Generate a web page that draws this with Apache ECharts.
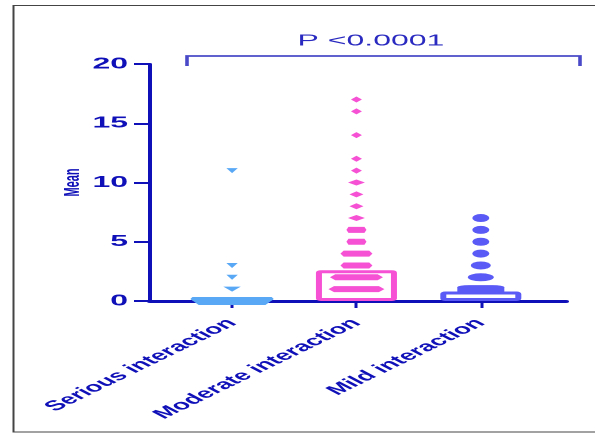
<!DOCTYPE html>
<html><head><meta charset="utf-8">
<script src="https://cdn.jsdelivr.net/npm/echarts@6/dist/echarts.min.js"></script>
<style>
html,body{margin:0;padding:0;background:#fff;overflow:hidden;width:595px;height:434px}
#wrap{width:297.5px;height:434px;transform:scaleX(2);transform-origin:0 0;}
</style></head><body><div id="wrap"></div>
<script>
// ---- data ----
const categories = ['Serious interaction', 'Moderate interaction', 'Mild interaction'];
const seriousValues = [11, 3, 2, 1, 0];
const seriousCounts = [1, 1, 1, 3, 25];
const moderateValues = [17, 16, 14, 12, 11, 10, 9, 8, 7, 6, 5, 4, 3, 2, 1];
const moderateCounts = [1, 1, 1, 1, 1, 3, 2, 2, 3, 4, 4, 8, 8, 15, 16];
const mildValues = [7, 6, 5, 4, 3, 2, 1];
const mildCounts = [1, 1, 1, 1, 2, 4, 11];
const barValues = [0.3, 2.6, 0.8];
const yTicks = [0, 5, 10, 15, 20];
const pLabel = 'P <0.0001';

// ---- styles ----
const AXIS = '#1010b8';
const colors = ['#58a8f6', '#f650d4', '#5a5af6'];
const FONT = 'Liberation Sans';

const chart = echarts.init(document.getElementById('wrap'), null, {renderer: 'canvas', devicePixelRatio: 2});

function pts(ci, vals, counts) {
  return vals.map((v, i) => [ci, v, counts[i]]);
}
const TRI = 'path://M0,0 L10,0 L5,9 Z';
const TRI_ROW = 'path://M1,0 L39,0 L40,1 L36,4 L4,4 L0,1 Z';
const DIA = 'diamond';
const DIA_ROW = 'path://M0,3 L3,0 L27,0 L30,3 L27,6 L3,6 Z';

const option = {
  animation: false,
  textStyle: {fontFamily: FONT},
  grid: {left: 75, right: 15, top: 64, bottom: 133, containLabel: false},
  xAxis: {
    type: 'value', min: -0.66, max: 2.685,
    splitLine: {show: false},
    axisLine: {show: true, onZero: false, lineStyle: {color: AXIS, width: 3}},
    axisTick: {show: true, customValues: [0, 1, 2], length: 7, lineStyle: {color: AXIS, width: 1.5}},
    axisLabel: {
      customValues: [0, 1, 2], formatter: v => categories[Math.round(v)] || '',
      rotate: 44, fontSize: 14, fontWeight: 'bold', color: AXIS, margin: 20, fontFamily: FONT
    }
  },
  yAxis: {
    type: 'value', min: yTicks[0], max: yTicks[yTicks.length - 1], interval: 5,
    splitLine: {show: false},
    axisLine: {show: true, onZero: false, lineStyle: {color: AXIS, width: 2}},
    axisTick: {show: true, length: 8, lineStyle: {color: AXIS, width: 2}},
    axisLabel: {fontSize: 16, fontWeight: 'bold', color: AXIS, margin: 11, fontFamily: FONT},
    name: 'Mean', nameLocation: 'middle', nameGap: 33, nameRotate: 90, nameMoveOverlap: false,
    nameTextStyle: {fontSize: 11, fontWeight: 'bold', color: AXIS, fontFamily: FONT}
  },
  series: [
    {
      type: 'bar', z: 1, barWidth: 40.5,
      data: barValues.map((v, i) => ({value: [i, v], itemStyle: {color: '#fff', borderColor: colors[i], borderWidth: 3, borderRadius: 1}})),
    },
    {
      type: 'scatter', z: 3,
      data: pts(0, seriousValues, seriousCounts),
      symbol: (val) => val[2] > 5 ? TRI_ROW : TRI,
      symbolSize: (val) => [5.7 + 1.5 * (val[2] - 1), val[2] > 5 ? 8 : 5],
      itemStyle: {color: colors[0], opacity: 1}
    },
    {
      type: 'scatter', z: 3,
      data: pts(1, moderateValues, moderateCounts),
      symbol: (val) => val[2] >= 4 ? DIA_ROW : DIA,
      symbolSize: (val) => [5.5 + 1.5 * (val[2] - 1), 6],
      itemStyle: {color: colors[1], opacity: 1}
    },
    {
      type: 'scatter', z: 3,
      data: pts(2, mildValues, mildCounts),
      symbol: (val) => val[2] >= 6 ? 'roundRect' : 'circle',
      symbolSize: (val) => [8.5 + 1.5 * (val[2] - 1), 8],
      itemStyle: {color: colors[2], opacity: 1}
    }
  ],
  graphic: [
    {type: 'rect', silent: true, shape: {x: 6.75, y: 5.5, width: 300, height: 426.5},
     style: {fill: 'none', stroke: '#444', lineWidth: 1}},
    {type: 'polyline', silent: true, shape: {points: [[93.5, 66], [93.5, 56], [290, 56], [290, 66]]},
     style: {fill: 'none', stroke: '#4a4ac8', lineWidth: 1.8}},
    {type: 'text', silent: true, x: 185.5, y: 41,
     style: {text: pLabel, fill: '#2a2ac0', fontSize: 16, fontFamily: FONT, align: 'center', verticalAlign: 'middle'}}
  ]
};
chart.setOption(option);
</script></body></html>
